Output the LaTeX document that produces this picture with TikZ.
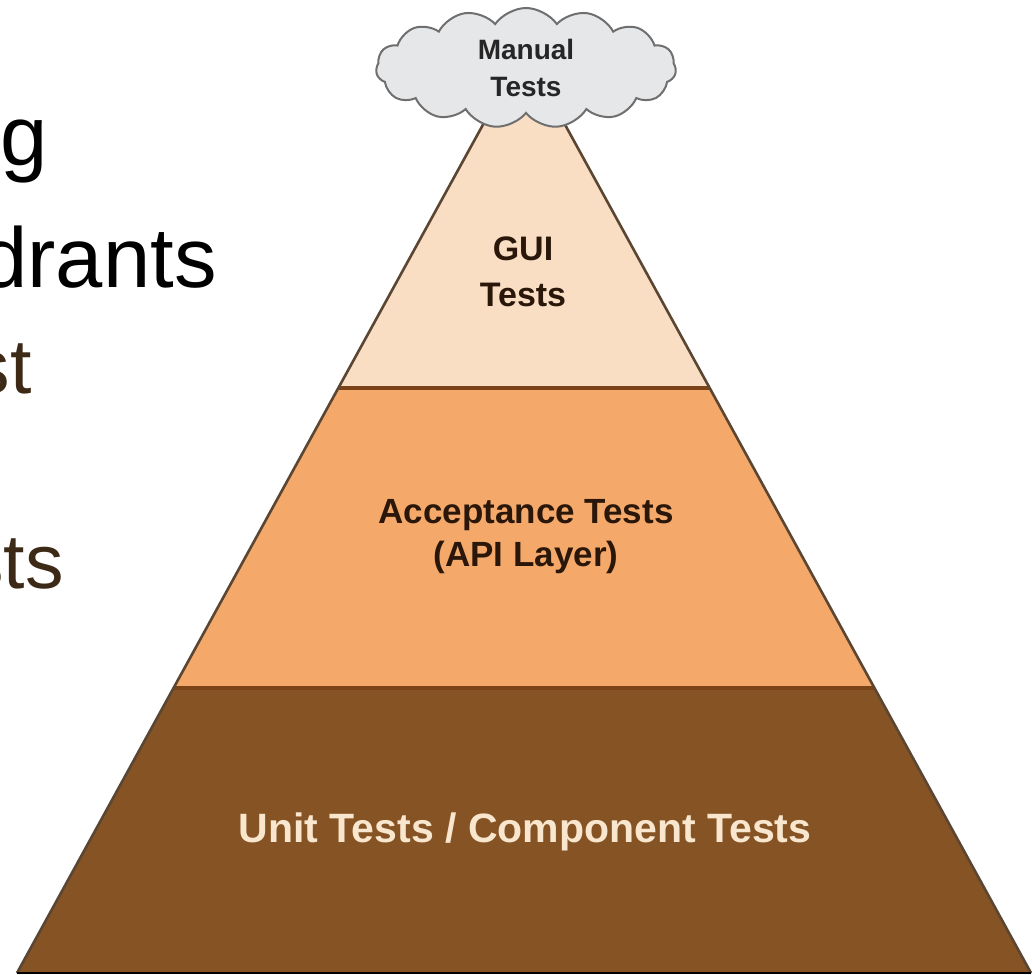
\documentclass[tikz,border=0pt]{standalone}
\usepackage{fontspec}
\setmainfont{Liberation Sans}
\usetikzlibrary{positioning,calc,shapes.symbols}
\definecolor{guifill}{HTML}{F9DEC4}
\definecolor{apifill}{HTML}{F4A96B}
\definecolor{unitfill}{HTML}{865424}
\definecolor{layerline}{HTML}{7A4418}
\definecolor{edgeline}{HTML}{5A4633}
\definecolor{cloudfill}{HTML}{E6E7E9}
\definecolor{cloudline}{HTML}{6F6F6F}
\definecolor{labeltext}{HTML}{2A170A}
\definecolor{bullettext}{HTML}{3C2A16}
\definecolor{unittext}{HTML}{F9E6CF}

\begin{document}
\begin{tikzpicture}[x=0.5pt,y=-0.5pt,
    layerlabel/.style={inner sep=0,align=center,text=labeltext,
                       font=\bfseries\fontsize{17.5}{21.5}\selectfont},
    slidetext/.style={inner sep=0,font=\fontsize{42.5}{50}\selectfont},
    subtext/.style={inner sep=0,text=bullettext,font=\fontsize{38.5}{46}\selectfont}
]
\useasboundingbox[fill=white] (0,0) rectangle (1032,974);

% pyramid corners and layer borders
\coordinate (apex) at (524,50);
\coordinate (bl) at (17,973);
\coordinate (br) at (1031,973);
\coordinate (gl) at ($(apex)!0.3662!(bl)$);
\coordinate (gr) at ($(apex)!0.3662!(br)$);
\coordinate (al) at ($(apex)!0.6912!(bl)$);
\coordinate (ar) at ($(apex)!0.6912!(br)$);

\fill[guifill]  (apex) -- (gr) -- (gl) -- cycle;
\fill[apifill]  (gl) -- (gr) -- (ar) -- (al) -- cycle;
\fill[unitfill] (al) -- (ar) -- (br) -- (bl) -- cycle;
\draw[layerline,line width=2pt] (gl) -- (gr) (al) -- (ar);
\draw[edgeline,line width=1.3pt] (bl) -- (apex) -- (br);
\draw[black,line width=1.2pt] (bl) -- (br);

\node[cloud,cloud puffs=15,cloud puff arc=110,cloud ignores aspect,
      minimum width=150pt,minimum height=60pt,
      draw=cloudline,line width=1pt,fill=cloudfill,align=center,text=black!85,
      font=\bfseries\fontsize{14}{18.5}\selectfont] (manual) at (526,68) {Manual\\Tests};

\node[layerlabel,font=\bfseries\fontsize{17}{23}\selectfont] (gui) at (523,272) {GUI\\Tests};
\node[layerlabel] (api) at (526,537) {Acceptance Tests\\(API Layer)};
\node[layerlabel,text=unittext,font=\bfseries\fontsize{20.5}{24}\selectfont] (unit) at (525,832)
     {Unit Tests / Component Tests};

% slide text running in from the left
\node[slidetext,anchor=base west] (line1) at (0,165) {g};
\node[slidetext,anchor=base east] (line2) at (217,287) {drants};
\node[subtext,anchor=base east] (line3) at (32,393) {st};
\node[subtext,anchor=base east] (line4) at (64,588) {sts};
\end{tikzpicture}
\end{document}
